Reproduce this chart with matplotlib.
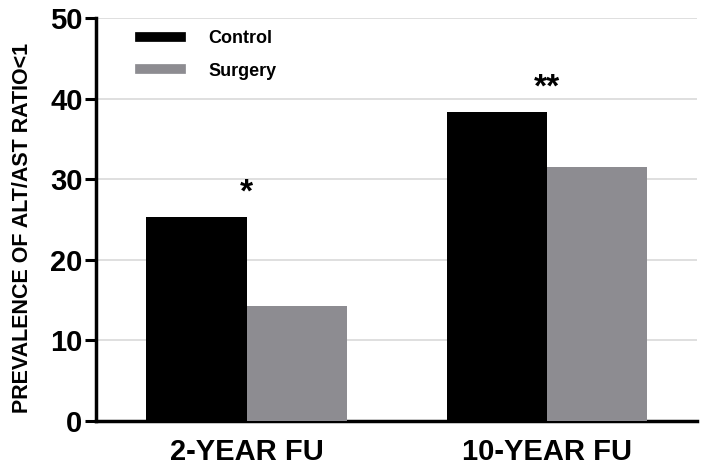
import matplotlib.pyplot as plt
import numpy as np
from matplotlib.lines import Line2D

categories = ['2-YEAR FU', '10-YEAR FU']
control = [25.3, 38.3]
surgery = [14.2, 31.5]
stars = ['*', '**']

plt.rcParams['font.family'] = ['Liberation Sans', 'DejaVu Sans']

fig = plt.figure(figsize=(7.04, 4.74), dpi=100)
ax = fig.add_axes([0.137, 0.112, 0.853, 0.850])

x = np.arange(len(categories))
w = 1 / 3
ax.bar(x - w / 2, control, w, color='black', zorder=3, label='Control')
ax.bar(x + w / 2, surgery, w, color='#8d8c91', zorder=3, label='Surgery')

for i, s in enumerate(stars):
    ax.text(x[i], control[i] + 1.1, s, ha='center', va='bottom',
            fontsize=24, fontweight='bold', zorder=4)

ax.set_xlim(-0.5, 1.5)
ax.set_ylim(0, 50)
ax.set_yticks(range(0, 51, 10))
ax.yaxis.grid(True, color='#d9d9d9', linewidth=1.2, zorder=0)
ax.set_axisbelow(True)

for side in ['top', 'right']:
    ax.spines[side].set_visible(False)
for side in ['left', 'bottom']:
    ax.spines[side].set_linewidth(2.5)

ax.tick_params(axis='y', length=8, width=2.2, labelsize=21, pad=2)
ax.tick_params(axis='x', length=0, pad=12)
for lab in ax.get_yticklabels():
    lab.set_fontweight('bold')
ax.set_xticks(x)
ax.set_xticklabels(categories, fontsize=21, fontweight='bold')

ax.set_ylabel('PREVALENCE OF ALT/AST RATIO<1', fontsize=15.5, fontweight='bold')
ax.yaxis.set_label_coords(-0.105, 0.478)

handles = [Line2D([0], [0], color='black', linewidth=7),
           Line2D([0], [0], color='#8d8c91', linewidth=7)]
ax.legend(handles, ['Control', 'Surgery'], loc='upper left', frameon=False,
          bbox_to_anchor=(0.045, 1.01), handlelength=2.3, handletextpad=1.5,
          labelspacing=0.85, prop={'weight': 'bold', 'size': 13})

plt.savefig('out.png', dpi=100)
